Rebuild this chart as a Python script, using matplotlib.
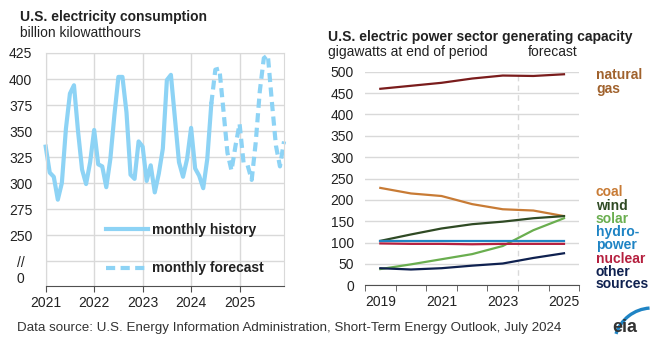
#!/usr/bin/env python3

import numpy as np
import matplotlib.pyplot as plt
from matplotlib.patches import Arc

plt.rcParams['font.family'] = ['Liberation Sans', 'DejaVu Sans']

# monthly consumption, billion kWh (Jan 2021 - Jun 2024 history, Jul 2024 - Dec 2025 forecast)
hist = [335, 310, 306, 284, 300, 352, 386, 394, 350, 313, 299, 320,
        351, 318, 316, 296, 323, 365, 402, 402, 368, 308, 304, 340,
        335, 302, 317, 291, 309, 333, 399, 404, 362, 320, 306, 323,
        353, 314, 307, 295, 323, 376]
fcst = [409, 410, 370, 329, 312, 336,
        357, 319, 317, 303, 339, 388, 420, 423, 378, 336, 316, 340]
year_lab = ['2021', '2022', '2023', '2024', '2025']
ytick_val = [209, 225, 250, 275, 300, 325, 350, 375, 400, 425]
ytick_lab = ['0', '//', '250', '275', '300', '325', '350', '375', '400', '425']

# annual generating capacity, GW
years = [2019, 2020, 2021, 2022, 2023, 2024, 2025]
gas     = [460, 467, 474, 484, 491, 490, 494]
coal    = [228, 215, 209, 190, 178, 175, 162]
wind    = [104, 119, 133, 143, 149, 157, 162]
solar   = [38, 49, 61, 73, 92, 129, 157]
hydro   = [104, 104, 104, 104, 104, 104, 104]
nuclear = [98, 97, 97, 96, 97, 97, 97]
other   = [40, 37, 40, 46, 51, 64, 75]

blue = '#8dd3f5'
grid_c = '#d9d9d9'
axis_c = '#505050'
txt = '#222222'
fs = 10

fig = plt.figure(figsize=(6.55, 3.53), dpi=100)

# ---------------- left panel
ax = fig.add_axes([45.7/655, 1-286/353, 238.3/655, 233/353])
x_h = np.arange(len(hist))
x_f = np.arange(len(hist)-1, len(hist)+len(fcst))
ax.plot(x_h, hist, '-', c=blue, lw=3.0, label='monthly history', clip_on=False)
ax.plot(x_f, [hist[-1]] + fcst, '--', c=blue, lw=3.0, dashes=(2.2, 1.3),
        label='monthly forecast', clip_on=False)
ax.set_xlim(0, len(hist)+len(fcst)-1)
ax.set_ylim(201, 425)
ax.set_xticks(np.arange(0, 60, 12))
ax.set_xticklabels(year_lab, fontsize=fs, color=txt)
ax.set_yticks(ytick_val)
ax.set_yticklabels(ytick_lab, fontsize=fs, color=txt)
for t in ax.get_yticklabels():
    t.set_horizontalalignment('center')
ax.tick_params(axis='y', length=0, pad=18)
ax.tick_params(axis='x', length=4, color=axis_c, pad=3)
ax.grid(True, color=grid_c, lw=1.0)
ax.get_ygridlines()[0].set_visible(False)
ax.set_axisbelow(True)
for s in ['left', 'right', 'top']:
    ax.spines[s].set_color(grid_c)
ax.spines['bottom'].set_color(axis_c)
ax.legend(loc='upper left', bbox_to_anchor=(0.255, 0.27), frameon=False,
          prop={'weight': 'bold', 'size': fs}, handlelength=3.0,
          handletextpad=0.3, labelspacing=1.75, borderpad=0, borderaxespad=0)
for t in ax.get_legend().get_texts():
    t.set_color(txt)

fig.text(20.5/655, 1-17/353, 'U.S. electricity consumption', fontsize=fs,
         weight='bold', color=txt, va='center')
fig.text(20.5/655, 1-33/353, 'billion kilowatthours', fontsize=fs,
         color=txt, va='center')

# ---------------- right panel
bx = fig.add_axes([365/655, 1-285.3/353, 214.3/655, 213.6/353])
bx.axvline(2023.5, ls='--', c=grid_c, lw=1.0, dashes=(4, 3))
series = [(gas, '#7a1c1c'), (coal, '#c87b35'), (wind, '#2f4a24'),
          (solar, '#6aae4f'), (hydro, '#1f84c4'), (nuclear, '#b5203f'),
          (other, '#0f2150')]
for vals, col in series:
    bx.plot(years, vals, c=col, lw=1.6, clip_on=False)
bx.set_xlim(2018.5, 2025.5)
bx.set_ylim(0, 500)
bx.set_yticks(np.arange(0, 501, 50))
bx.tick_params(axis='y', length=0, pad=8, labelsize=fs, labelcolor=txt)
bx.set_xticks([2019, 2021, 2023, 2025])
bx.set_xticks(np.arange(2018.5, 2026, 1), minor=True)
bx.tick_params(axis='x', which='major', length=0, pad=7, labelsize=fs,
               labelcolor=txt)
bx.tick_params(axis='x', which='minor', length=4, color=axis_c)
bx.grid(True, axis='y', color=grid_c, lw=1.0)
bx.set_axisbelow(True)
for s in ['left', 'right', 'top']:
    bx.spines[s].set_visible(False)
bx.spines['bottom'].set_color(axis_c)

fig.text(328/655, 1-37/353, 'U.S. electric power sector generating capacity',
         fontsize=fs, weight='bold', color=txt, va='center')
fig.text(328/655, 1-52/353, 'gigawatts at end of period', fontsize=fs,
         color=txt, va='center')
fig.text(528/655, 1-52/353, 'forecast', fontsize=fs, color=txt, va='center')

labels = [('natural', 75, '#a0622d'), ('gas', 89, '#a0622d'),
          ('coal', 192, '#c87b35'), ('wind', 205.5, '#2f4a24'),
          ('solar', 219, '#6aae4f'), ('hydro-', 232, '#1f84c4'),
          ('power', 245, '#1f84c4'), ('nuclear', 259, '#b5203f'),
          ('other', 272, '#0f2150'), ('sources', 284.5, '#0f2150')]
for s, yy, col in labels:
    fig.text(596/655, 1-yy/353, s, fontsize=fs, weight='bold', color=col,
             va='center')

fig.text(17/655, 1-328/353,
         'Data source: U.S. Energy Information Administration, '
         'Short-Term Energy Outlook, July 2024',
         fontsize=9.6, color='#333333', va='center')

# eia logo
fig.text(625/655, 1-328/353, 'eia', fontsize=13, weight='bold',
         color='#333333', ha='center', va='center')
fig.add_artist(Arc((652/655, 1-346/353), 76/655, 76/353, theta1=92,
                   theta2=148, transform=fig.transFigure, color='#1f84c4',
                   lw=2.4))

plt.savefig('out.png', dpi=100)
